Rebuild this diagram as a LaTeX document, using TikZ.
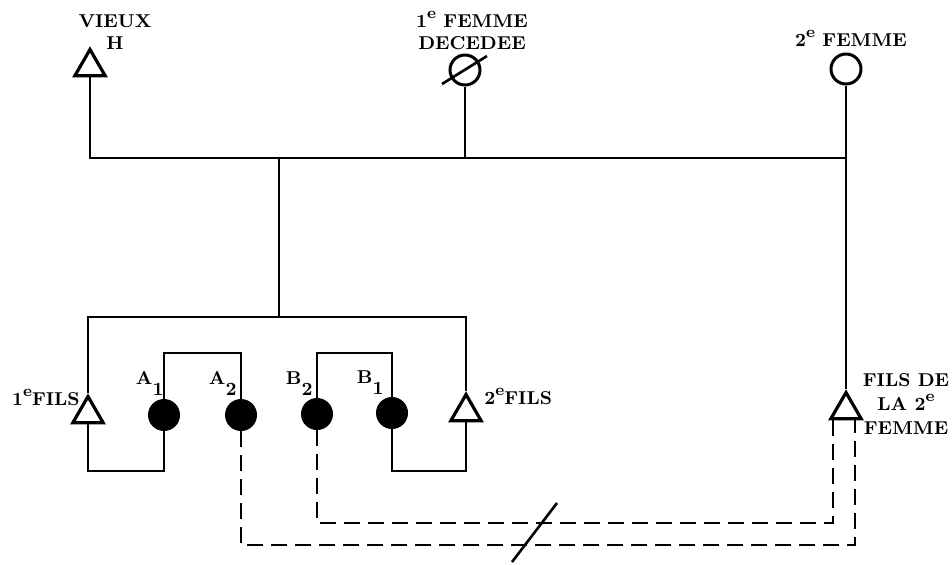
\documentclass[tikz,border=0pt]{standalone}
\usepackage{tikz}
\usetikzlibrary{calc,positioning,shapes.geometric}
\tikzset{
  kinline/.style={draw=black,line width=1.3pt},
  dashline/.style={draw=black,line width=1.3pt,dash pattern=on 8pt off 4pt},
  male/.style={regular polygon,regular polygon sides=3,draw,line width=1.6pt,inner sep=0pt,minimum size=17.5pt},
  female/.style={circle,draw,line width=1.5pt,inner sep=0pt,minimum size=15pt},
  child/.style={circle,fill=black,inner sep=0pt,minimum size=16pt},
  lbl/.style={font=\fontsize{9.3}{11}\selectfont\bfseries,inner sep=0pt,align=center},
}
\newcommand{\lsup}[1]{\raisebox{4.5pt}{\fontsize{8}{8}\selectfont #1}}
\newcommand{\lsub}[1]{\raisebox{-5.5pt}{#1}}

\begin{document}
\begin{tikzpicture}[x=0.5pt,y=-0.5pt]
    \useasboundingbox (0,0) rectangle (952,564);
    % parents
    \node[male] (vieux) at (90,67) {};
    \node[female] (fem1) at (465,70) {};
    \node[female] (fem2) at (846,69) {};
    \draw[kinline] ($(fem1)+(-23,14)$) -- ($(fem1)+(22,-14)$);
    \node[lbl] at (115,32) {VIEUX\\H};
    \node[lbl] at (472,30) {1\lsup{e} FEMME\\DECEDEE};
    \node[lbl,anchor=base] at (851,46) {2\lsup{e} FEMME};
    % children
    \node[male] (fils1) at (88,414) {};
    \node[male] (fils2) at (466,412) {};
    \node[male] (fils3) at (846,410) {};
    \node[child] (a1) at (164,415) {};
    \node[child] (a2) at (241,415) {};
    \node[child] (b2) at (317,414) {};
    \node[child] (b1) at (392,413) {};
    \node[lbl,anchor=base east] at (80,405) {1\lsup{e}FILS};
    \node[lbl,anchor=base west] at (484,404) {2\lsup{e}FILS};
    \node[lbl,font=\fontsize{9.3}{12}\selectfont\bfseries] at (906,404) {FILS DE\\LA 2\lsup{e}\\FEMME};
    \node[lbl,anchor=base east] at (164,384) {A\lsub{1}};
    \node[lbl,anchor=base east] at (237,384) {A\lsub{2}};
    \node[lbl,anchor=base east] at (313,384) {B\lsub{2}};
    \node[lbl,anchor=base east] at (384,383) {B\lsub{1}};
    % helper points
    \coordinate (mar) at (279,158);
    \coordinate (sib) at (279,317);
    \coordinate (haut) at (0,353);
    \coordinate (bas) at (0,471);
    \coordinate (dup) at (0,523);
    \coordinate (dlow) at (0,545);
    \coordinate (pa) at ($(fils3.south)+(9,0)$);
    \coordinate (pb) at ($(fils3.south)+(-13,0)$);
    % solid lines
    \draw[kinline] (vieux.south) |- (fem2.south |- mar);
    \draw[kinline] (fem1.south) -- (fem1.south |- mar);
    \draw[kinline] (fem2.south) -- (fils3.north);
    \draw[kinline] (mar) -- (sib);
    \draw[kinline] (fils1.north) |- (fils2.north |- sib) -- (fils2.north);
    \draw[kinline] (fils1.south) |- (a1.south |- bas) -- (a1.south);
    \draw[kinline] (a1.north) |- (a2.north |- haut) -- (a2.north);
    \draw[kinline] (b2.north) |- (b1.north |- haut) -- (b1.north);
    \draw[kinline] (b1.south) |- (fils2.south |- bas) -- (fils2.south);
    % dashed lines
    \draw[dashline] (a2.south) |- (pa |- dlow) -- (pa);
    \draw[dashline] (b2.south) |- (pb |- dup) -- (pb);
    \draw[kinline] (512,562) -- (557,503);
\end{tikzpicture}
\end{document}
